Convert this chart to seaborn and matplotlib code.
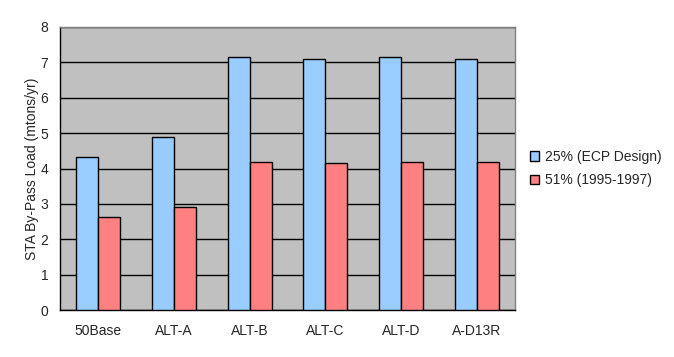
import pandas as pd
import matplotlib
matplotlib.use("Agg")
import matplotlib.pyplot as plt
import seaborn as sns

scenarios = ["50Base", "ALT-A", "ALT-B", "ALT-C", "ALT-D", "A-D13R"]
ecp_design = [4.33, 4.88, 7.14, 7.10, 7.14, 7.10]
years_95_97 = [2.64, 2.90, 4.19, 4.16, 4.19, 4.19]
series = ["25% (ECP Design)", "51% (1995-1997)"]

df = pd.DataFrame({
    "scenario": scenarios * 2,
    "load": ecp_design + years_95_97,
    "series": [series[0]] * 6 + [series[1]] * 6,
})

sns.set_style("white")
plt.rcParams['font.family'] = ['Liberation Sans', 'DejaVu Sans']
plt.rcParams['font.size'] = 10

fig = plt.figure(figsize=(6.74, 3.57), dpi=100)
ax = fig.add_axes([60 / 674, 47 / 357, 455 / 674, 283 / 357])
ax.set_facecolor("#C0C0C0")

sns.barplot(data=df, x="scenario", y="load", hue="series", order=scenarios,
            hue_order=series, palette=["#99CCFF", "#FF8080"], width=0.58,
            edgecolor="black", linewidth=1, saturation=1, ax=ax, zorder=3)

ax.set_ylim(0, 8)
ax.set_xlim(-0.5, 5.5)
ax.set_yticks(range(0, 9))
ax.yaxis.grid(True, color="black", linewidth=1, zorder=1)
ax.set_axisbelow(True)
ax.set_xticks([i - 0.5 for i in range(7)], minor=False)
ax.set_xticklabels([])
ax.set_xticks(range(6), minor=True)
ax.set_xticklabels(scenarios, minor=True)
ax.tick_params(axis="x", which="major", direction="out", length=5, color="black", width=1)
ax.tick_params(axis="x", which="minor", length=0, pad=10, labelsize=10)
ax.tick_params(axis="y", direction="out", length=5, color="black", width=1, labelsize=10)
ax.set_xlabel("")
ax.set_ylabel("STA By-Pass Load (mtons/yr)", fontsize=10, labelpad=1)

for side in ["top", "right"]:
    ax.spines[side].set_color("#808080")
for side in ["left", "bottom"]:
    ax.spines[side].set_color("black")
for s in ax.spines.values():
    s.set_linewidth(1)
    s.set_visible(True)

ax.legend(loc="center left", bbox_to_anchor=(1.005, 0.5), frameon=False,
          handlelength=0.7, handleheight=0.7, handletextpad=0.4,
          labelspacing=0.7, fontsize=10)

fig.savefig("out.png", dpi=100)
